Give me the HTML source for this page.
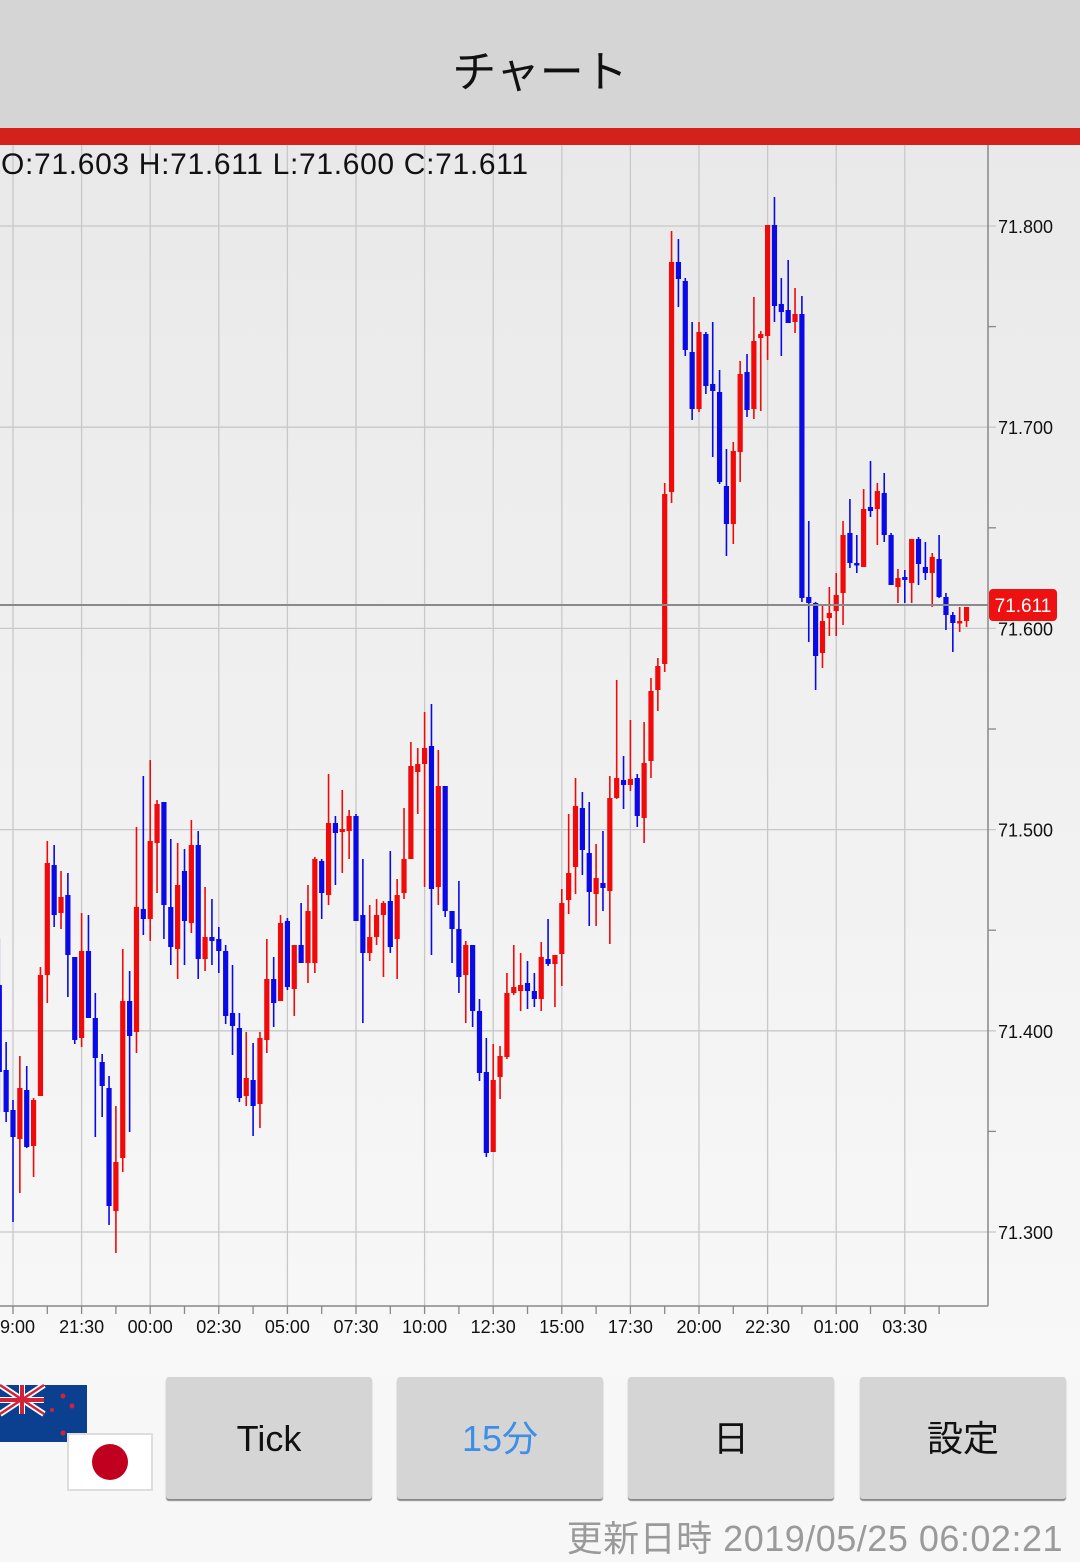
<!DOCTYPE html>
<html><head><meta charset="utf-8">
<style>
html,body{margin:0;padding:0;}
body{width:1080px;height:1560px;position:relative;overflow:hidden;background:#f7f7f7;font-family:"Liberation Sans","Noto Sans CJK JP",sans-serif;}
#hdr{position:absolute;left:0;top:0;width:1080px;height:128px;background:#d5d5d5;text-align:center;line-height:146px;font-size:44px;color:#111;}
#hdr span{position:relative;top:0px;}
#bar{position:absolute;left:0;top:128px;width:1080px;height:17px;background:#d2221b;}
svg{position:absolute;left:0;top:0;}
.btn{position:absolute;top:1377px;height:122px;width:206px;background:#d5d5d5;border-radius:3px;box-shadow:0 2px 1px #888;text-align:center;line-height:124px;font-size:36px;color:#111;}
#foot{position:absolute;right:17px;top:1510px;font-size:36px;letter-spacing:0.5px;color:#9a9a9a;}
</style></head><body>
<div id="hdr"><span>チャート</span></div>
<svg width="1080" height="1560" id="s">
<defs><linearGradient id="g" x1="0" y1="0" x2="0" y2="1"><stop offset="0" stop-color="#e9e9e9"/><stop offset="1" stop-color="#f8f8f8"/></linearGradient></defs>
<rect x="0" y="145" width="1080" height="1230" fill="url(#g)"/>
<g id="grid" stroke="#c8c8c8" stroke-width="1.3"></g>
<g id="cdl"></g>
<line x1="0" y1="605" x2="988" y2="605" stroke="#8a8a8a" stroke-width="2"/>
<line x1="988" y1="145" x2="988" y2="1306" stroke="#888" stroke-width="1.5"/>
<line x1="0" y1="1306" x2="988" y2="1306" stroke="#888" stroke-width="1.5"/>
<g id="lab" font-family="Liberation Sans, sans-serif" font-size="18" fill="#111"></g>
<rect x="989" y="589" width="68" height="32" rx="4" fill="#ee1111"/>
<text x="1023" y="612" text-anchor="middle" font-family="Liberation Sans, sans-serif" font-size="19" fill="#fff">71.611</text>
<text x="1" y="174" font-family="Liberation Sans, sans-serif" font-size="30" textLength="527" lengthAdjust="spacing" fill="#111">O:71.603 H:71.611 L:71.600 C:71.611</text>
<!-- NZ flag -->
<rect x="0" y="1385" width="87" height="57" fill="#0b3f8f"/>
<g stroke="#fff" stroke-width="6"><line x1="0" y1="1385" x2="44" y2="1414"/><line x1="44" y1="1385" x2="0" y2="1414"/><line x1="22" y1="1385" x2="22" y2="1414"/><line x1="0" y1="1400" x2="44" y2="1400"/></g>
<g stroke="#d2223a" stroke-width="2.5"><line x1="0" y1="1385" x2="44" y2="1414"/><line x1="44" y1="1385" x2="0" y2="1414"/></g>
<g stroke="#d2223a" stroke-width="4"><line x1="22" y1="1385" x2="22" y2="1414"/><line x1="0" y1="1400" x2="44" y2="1400"/></g>
<g fill="#d2223a"><circle cx="63" cy="1396" r="2.5"/><circle cx="72" cy="1406" r="2.5"/><circle cx="52" cy="1410" r="2"/><circle cx="63" cy="1433" r="2.5"/></g>
<!-- JP flag -->
<rect x="68" y="1434" width="84" height="56" fill="#fff" stroke="#ddd" stroke-width="2"/>
<circle cx="110" cy="1462" r="18" fill="#c0001e"/>
</svg>
<div id="bar"></div>
<div class="btn" style="left:166px;">Tick</div>
<div class="btn" style="left:397px;color:#3c8ee6;">15分</div>
<div class="btn" style="left:628px;">日</div>
<div class="btn" style="left:860px;">設定</div>
<div id="foot">更新日時 2019/05/25 06:02:21</div>
<script>
var NS="http://www.w3.org/2000/svg";
function el(p,t,a){var e=document.createElementNS(NS,t);for(var k in a)e.setAttribute(k,a[k]);p.appendChild(e);return e;}
var grid=document.getElementById('grid'),lab=document.getElementById('lab'),cdl=document.getElementById('cdl');
var pr=["71.800","71.700","71.600","71.500","71.400","71.300"];
for(var i=0;i<6;i++){var y=226+201.2*i;el(grid,'line',{x1:0,y1:y,x2:996,y2:y});
 var t=el(lab,'text',{x:998,y:y+7});t.textContent=pr[i];
 if(i<5)el(grid,'line',{x1:988,y1:y+100.6,x2:996,y2:y+100.6,stroke:'#888'});}
var tl=["9:00","21:30","00:00","02:30","05:00","07:30","10:00","12:30","15:00","17:30","20:00","22:30","01:00","03:30"];
for(var i=0;i<14;i++){var x=13+68.6*i;el(grid,'line',{x1:x,y1:145,x2:x,y2:1306});
 el(grid,'line',{x1:x,y1:1306,x2:x,y2:1314,stroke:'#888'});
 el(grid,'line',{x1:x+34.3,y1:1306,x2:x+34.3,y2:1314,stroke:'#888'});
 var t=el(lab,'text',{x:(i==0?0:x),y:1333,'text-anchor':(i==0?'start':'middle')});t.textContent=tl[i];}
var C=[
[939,1112,985,1072,'b'],[1042,1122,1070,1112,'b'],[1100,1222,1110,1137,'b'],[1056,1193,1088,1139,'r'],[1066,1148,1090,1147,'b'],
[1098,1177,1100,1146,'r'],[967,1096,975,1096,'r'],[841,1003,863,975,'r'],[845,927,865,915,'b'],[871,929,897,913,'r'],
[873,997,895,955,'b'],[957,1044,957,1040,'b'],[913,1047,951,1038,'r'],[915,1018,951,1018,'b'],[993,1137,1018,1058,'b'],
[1054,1117,1062,1086,'b'],[1076,1225,1088,1206,'b'],[1106,1253,1162,1211,'r'],[949,1172,1001,1158,'r'],[971,1132,1001,1036,'b'],
[827,1053,907,1032,'r'],[776,935,909,919,'b'],[760,941,841,919,'r'],[800,893,804,843,'r'],[802,939,802,905,'b'],
[839,965,907,947,'b'],[843,979,885,949,'r'],[849,965,871,921,'b'],[820,933,845,923,'r'],[831,979,845,959,'b'],
[887,971,937,959,'r'],[899,965,937,941,'b'],[927,973,939,951,'b'],[945,1024,951,1016,'b'],[965,1055,1013,1026,'b'],
[1013,1102,1028,1098,'b'],[1032,1106,1078,1096,'r'],[1043,1136,1080,1106,'b'],[1032,1128,1038,1104,'r'],[939,1053,979,1040,'r'],
[957,1027,979,1003,'b'],[915,1000,923,1001,'r'],[918,990,921,987,'b'],[945,1016,945,989,'r'],[903,963,945,963,'b'],
[885,983,911,963,'r'],[857,973,859,963,'r'],[859,919,861,893,'b'],[774,905,823,895,'r'],[816,885,823,833,'b'],
[790,873,829,832,'r'],[810,859,816,831,'r'],[814,921,816,921,'b'],[859,1023,915,953,'b'],[905,961,937,953,'r'],
[899,945,915,937,'r'],[901,977,903,915,'r'],[851,953,901,947,'b'],[879,979,895,939,'r'],[808,899,859,893,'r'],
[742,859,766,859,'r'],[748,814,764,772,'r'],[712,887,748,764,'r'],[704,955,746,889,'b'],[750,905,786,887,'r'],
[786,917,786,911,'b'],[911,963,911,929,'b'],[881,993,929,977,'b'],[941,1023,945,975,'r'],[945,1027,945,1011,'b'],
[999,1081,1011,1073,'b'],[1038,1157,1072,1153,'b'],[1044,1152,1080,1152,'r'],[1046,1099,1056,1077,'r'],[973,1059,993,1057,'r'],
[945,995,987,993,'r'],[953,1011,985,991,'r'],[961,1009,983,991,'b'],[973,1007,991,999,'b'],[942,1011,957,999,'r'],
[919,966,959,964,'b'],[955,1007,955,964,'r'],[889,986,903,954,'r'],[814,914,873,900,'r'],[778,894,806,867,'r'],
[792,875,808,850,'b'],[802,926,853,892,'b'],[844,926,878,894,'r'],[831,911,883,888,'b'],[776,944,798,891,'r'],
[680,799,778,798,'r'],[756,809,780,785,'b'],[720,791,779,785,'r'],[774,827,778,816,'b'],[722,843,763,818,'r'],
[678,778,691,761,'r'],[658,711,666,690,'r'],[483,672,494,664,'r'],[231,503,262,492,'r'],[239,307,262,279,'b'],
[278,356,281,350,'b'],[322,420,352,409,'b'],[322,412,332,409,'r'],[332,394,334,386,'b'],[322,457,384,391,'b'],
[370,484,392,482,'b'],[449,556,486,524,'b'],[442,544,451,524,'r'],[361,482,374,452,'r'],[354,417,372,410,'b'],
[297,419,341,409,'r'],[331,411,334,338,'r'],[225,360,225,336,'r'],[197,322,225,306,'b'],[278,356,304,312,'b'],
[260,323,310,323,'b'],[288,333,314,322,'r'],[296,602,314,598,'b'],[521,642,597,603,'b'],[602,690,603,656,'b'],
[606,668,621,653,'r'],[587,636,613,618,'r'],[573,636,595,611,'r'],[521,625,535,593,'r'],[499,568,533,563,'b'],
[535,573,563,565,'b'],[489,567,509,567,'r'],[461,517,507,511,'b'],[483,545,491,509,'r'],[473,542,493,535,'b'],
[533,585,535,585,'b'],[569,603,578,587,'r'],[570,603,577,580,'b'],[539,603,539,583,'r'],[537,585,539,564,'b'],
[542,580,567,573,'b'],[553,607,557,573,'r'],[535,598,559,597,'b'],[593,630,597,615,'b'],[612,652,615,623,'b'],
[607,632,621,622,'r'],[607,627,607,621,'r']];
for(var n=0;n<C.length;n++){var c=C[n],x=13+6.86*(n-2),col=c[4]=='r'?'#f00a0a':'#0a0ae6';
 el(cdl,'line',{x1:x,y1:c[0],x2:x,y2:c[1],stroke:col,'stroke-width':1.6});
 var h=Math.max(c[3]-c[2],2.5);el(cdl,'rect',{x:x-2.6,y:c[2],width:5.2,height:h,fill:col});}
</script>
</body></html>
